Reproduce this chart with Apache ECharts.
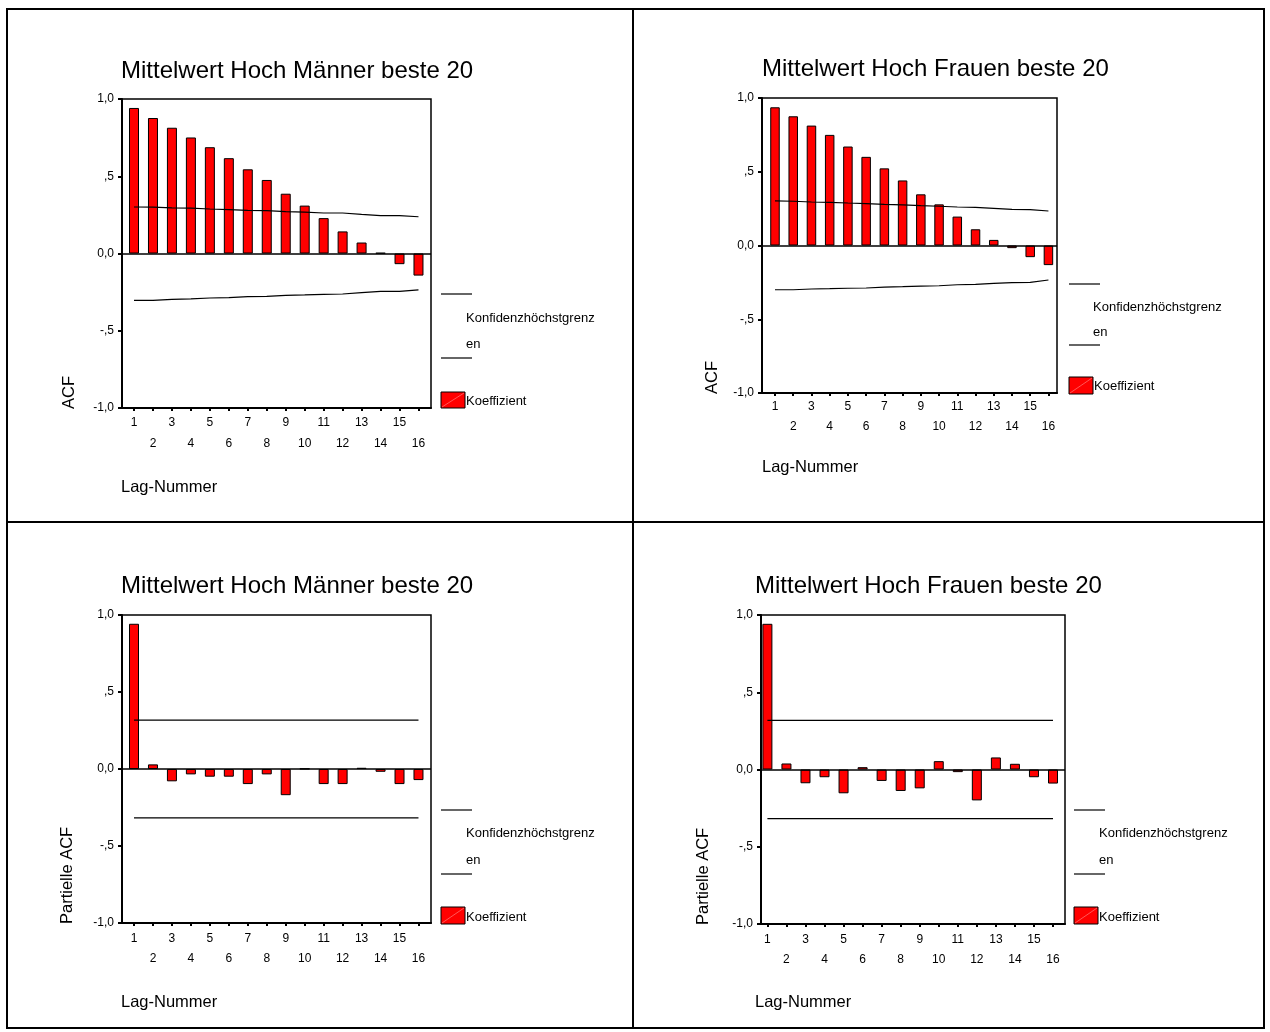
<!DOCTYPE html>
<html><head><meta charset="utf-8">
<script src="https://cdn.jsdelivr.net/npm/echarts@6/dist/echarts.min.js"></script>
<style>html,body{margin:0;padding:0;background:#fff}#c{width:1270px;height:1032px}</style>
</head><body><div id="c"></div>
<script>
// ---- data ----
const lags = [1, 2, 3, 4, 5, 6, 7, 8, 9, 10, 11, 12, 13, 14, 15, 16];

const menAcf      = [0.942, 0.877, 0.814, 0.751, 0.688, 0.617, 0.545, 0.476, 0.387, 0.310, 0.229, 0.143, 0.071, 0.004, -0.069, -0.143];
const menAcfUpper = [0.301, 0.300, 0.295, 0.294, 0.288, 0.284, 0.279, 0.277, 0.271, 0.268, 0.262, 0.262, 0.253, 0.245, 0.245, 0.238];
const menAcfLower = [-0.303, -0.303, -0.297, -0.294, -0.288, -0.286, -0.279, -0.277, -0.271, -0.268, -0.264, -0.262, -0.253, -0.245, -0.245, -0.236];

const womenAcf      = [0.937, 0.876, 0.813, 0.750, 0.671, 0.601, 0.523, 0.441, 0.347, 0.279, 0.196, 0.110, 0.038, -0.018, -0.079, -0.133];
const womenAcfUpper = [0.302, 0.300, 0.295, 0.293, 0.288, 0.284, 0.279, 0.275, 0.270, 0.266, 0.261, 0.259, 0.252, 0.245, 0.243, 0.234];
const womenAcfLower = [-0.300, -0.300, -0.295, -0.293, -0.290, -0.288, -0.282, -0.279, -0.275, -0.273, -0.266, -0.264, -0.257, -0.252, -0.250, -0.234];

const menPacf      = [0.943, 0.030, -0.080, -0.035, -0.050, -0.050, -0.098, -0.035, -0.170, 0.002, -0.098, -0.098, 0.008, -0.018, -0.098, -0.072];
const menPacfUpper = [0.318, 0.318, 0.318, 0.318, 0.318, 0.318, 0.318, 0.318, 0.318, 0.318, 0.318, 0.318, 0.318, 0.318, 0.318, 0.318];
const menPacfLower = [-0.318, -0.318, -0.318, -0.318, -0.318, -0.318, -0.318, -0.318, -0.318, -0.318, -0.318, -0.318, -0.318, -0.318, -0.318, -0.318];

const womenPacf      = [0.943, 0.039, -0.089, -0.050, -0.154, 0.015, -0.074, -0.139, -0.122, 0.054, -0.017, -0.200, 0.078, 0.037, -0.050, -0.091];
const womenPacfUpper = [0.318, 0.318, 0.318, 0.318, 0.318, 0.318, 0.318, 0.318, 0.318, 0.318, 0.318, 0.318, 0.318, 0.318, 0.318, 0.318];
const womenPacfLower = [-0.318, -0.318, -0.318, -0.318, -0.318, -0.318, -0.318, -0.318, -0.318, -0.318, -0.318, -0.318, -0.318, -0.318, -0.318, -0.318];

const yTickValues = [-1, -0.5, 0, 0.5, 1];
const titleMen = 'Mittelwert Hoch Männer beste 20';
const titleWomen = 'Mittelwert Hoch Frauen beste 20';
const yNameAcf = 'ACF';
const yNamePacf = 'Partielle ACF';
const xName = 'Lag-Nummer';
const legendLineText1 = 'Konfidenzhöchstgrenz';
const legendLineText2 = 'en';
const legendBarText = 'Koeffizient';

// ---- layout ----
const FONT = "'Liberation Sans', Arial, Helvetica, sans-serif";
const panels = [
  { vals: menAcf, up: menAcfUpper, lo: menAcfLower, title: titleMen, yName: yNameAcf,
    g: {left: 122, top: 99, width: 309, height: 309}, xMin: 0.367, xMax: 16.66, barW: 10, lm: 4, lh: 21,
    tx: 121, ty: 71, yn: [69, 409], xn: [121, 487],
    leg: {x: 441, l1: 294, t1: 318, t2: 344, l2: 358, bt: 392, bh: 16, bw: 24, kt: 401, tx: 466} },
  { vals: womenAcf, up: womenAcfUpper, lo: womenAcfLower, title: titleWomen, yName: yNameAcf,
    g: {left: 762, top: 98, width: 295, height: 295}, xMin: 0.287, xMax: 16.47, barW: 9.5, lm: 4, lh: 20,
    tx: 762, ty: 69, yn: [712, 394], xn: [762, 467],
    leg: {x: 1069, l1: 284, t1: 307, t2: 332, l2: 345, bt: 377, bh: 17, bw: 24, kt: 386, tx: 1093} },
  { vals: menPacf, up: menPacfUpper, lo: menPacfLower, title: titleMen, yName: yNamePacf,
    g: {left: 122, top: 615, width: 309, height: 308}, xMin: 0.367, xMax: 16.66, barW: 10, lm: 6, lh: 20,
    tx: 121, ty: 586, yn: [67, 924], xn: [121, 1002],
    leg: {x: 441, l1: 810, t1: 833, t2: 860, l2: 874, bt: 907, bh: 17, bw: 24, kt: 917, tx: 466} },
  { vals: womenPacf, up: womenPacfUpper, lo: womenPacfLower, title: titleWomen, yName: yNamePacf,
    g: {left: 761, top: 615, width: 304, height: 309}, xMin: 0.664, xMax: 16.63, barW: 10, lm: 6, lh: 20,
    tx: 755, ty: 586, yn: [703, 925], xn: [755, 1002],
    leg: {x: 1074, l1: 810, t1: 833, t2: 860, l2: 874, bt: 907, bh: 17, bw: 24, kt: 917, tx: 1099} }
];

function fmtY(v) {
  if (Math.abs(v) < 1e-9) return '0,0';
  let s = Math.abs(v).toFixed(1).replace('.', ',');
  if (Math.abs(v) < 1) s = s.slice(1);
  return (v < 0 ? '-' : '') + s;
}

const grids = [], xAxes = [], yAxes = [], series = [], graphics = [];

panels.forEach((p, i) => {
  grids.push(Object.assign({show: true, borderColor: '#000', borderWidth: 1.5, outerBoundsMode: 'none', containLabel: false}, p.g));
  xAxes.push({
    gridIndex: i, type: 'value', min: p.xMin, max: p.xMax,
    axisLine: {show: true, onZero: false, lineStyle: {color: '#000', width: 2}},
    splitLine: {show: false},
    axisTick: {show: true, customValues: lags, length: 3, lineStyle: {color: '#000', width: 2}},
    axisLabel: {customValues: lags, formatter: v => (v % 2 === 0 ? '\n' + v : '' + v),
      margin: p.lm, lineHeight: p.lh, fontSize: 12, color: '#000', fontFamily: FONT}
  });
  yAxes.push({
    gridIndex: i, type: 'value', min: -1, max: 1, interval: 0.5,
    axisLine: {show: true, lineStyle: {color: '#000', width: 2}},
    axisTick: {show: true, length: 4, lineStyle: {color: '#000', width: 2}},
    splitLine: {show: false},
    axisLabel: {customValues: yTickValues, formatter: fmtY, margin: 8, fontSize: 12, color: '#000', fontFamily: FONT}
  });
  series.push({
    type: 'bar', xAxisIndex: i, yAxisIndex: i, barWidth: p.barW, z: 3,
    data: lags.map((l, k) => [l, p.vals[k]]),
    itemStyle: {color: '#ff0000', borderColor: '#000', borderWidth: 1},
    markLine: {silent: true, symbol: 'none', label: {show: false},
      lineStyle: {color: '#000', width: 1.5, type: 'solid'}, data: [{yAxis: 0}]}
  });
  series.push({
    type: 'line', xAxisIndex: i, yAxisIndex: i, symbol: 'none', z: 4,
    data: lags.map((l, k) => [l, p.up[k]]), lineStyle: {color: '#000', width: 1.2}
  });
  series.push({
    type: 'line', xAxisIndex: i, yAxisIndex: i, symbol: 'none', z: 4,
    data: lags.map((l, k) => [l, p.lo[k]]), lineStyle: {color: '#000', width: 1.2}
  });

  // titles and axis names
  graphics.push({type: 'text', x: p.tx, y: p.ty, style: {text: p.title, fontSize: 24, fontFamily: FONT, fill: '#000', align: 'left', verticalAlign: 'middle'}});
  graphics.push({type: 'text', x: p.yn[0], y: p.yn[1], rotation: Math.PI / 2,
    style: {text: p.yName, fontSize: 16.5, fontFamily: FONT, fill: '#000', align: 'left', verticalAlign: 'middle'}});
  graphics.push({type: 'text', x: p.xn[0], y: p.xn[1], style: {text: xName, fontSize: 16.5, fontFamily: FONT, fill: '#000', align: 'left', verticalAlign: 'middle'}});

  // legend
  const L = p.leg;
  graphics.push({type: 'line', shape: {x1: L.x, y1: L.l1, x2: L.x + 31, y2: L.l1}, style: {stroke: '#000', lineWidth: 1.2}});
  graphics.push({type: 'text', x: L.tx, y: L.t1, style: {text: legendLineText1, fontSize: 13, fontFamily: FONT, fill: '#000', align: 'left', verticalAlign: 'middle'}});
  graphics.push({type: 'text', x: L.tx, y: L.t2, style: {text: legendLineText2, fontSize: 13, fontFamily: FONT, fill: '#000', align: 'left', verticalAlign: 'middle'}});
  graphics.push({type: 'line', shape: {x1: L.x, y1: L.l2, x2: L.x + 31, y2: L.l2}, style: {stroke: '#000', lineWidth: 1.2}});
  graphics.push({type: 'rect', shape: {x: L.x, y: L.bt, width: L.bw, height: L.bh}, style: {fill: '#ff0000', stroke: '#000', lineWidth: 1}});
  graphics.push({type: 'line', shape: {x1: L.x + 1, y1: L.bt + L.bh - 1, x2: L.x + L.bw - 1, y2: L.bt + 1}, style: {stroke: '#ff9090', lineWidth: 0.6}});
  graphics.push({type: 'text', x: L.x + L.bw + 1, y: L.kt, style: {text: legendBarText, fontSize: 13, fontFamily: FONT, fill: '#000', align: 'left', verticalAlign: 'middle'}});
});

// outer frame and separators
graphics.push({type: 'rect', shape: {x: 7, y: 9, width: 1257, height: 1019}, style: {fill: 'none', stroke: '#000', lineWidth: 2}});
graphics.push({type: 'line', shape: {x1: 633, y1: 9, x2: 633, y2: 1028}, style: {stroke: '#000', lineWidth: 2}});
graphics.push({type: 'line', shape: {x1: 7, y1: 522, x2: 1264, y2: 522}, style: {stroke: '#000', lineWidth: 2}});

const chart = echarts.init(document.getElementById('c'), null, {renderer: 'canvas'});
chart.setOption({
  animation: false,
  backgroundColor: '#fff',
  grid: grids, xAxis: xAxes, yAxis: yAxes, series: series,
  graphic: graphics
});
</script></body></html>
